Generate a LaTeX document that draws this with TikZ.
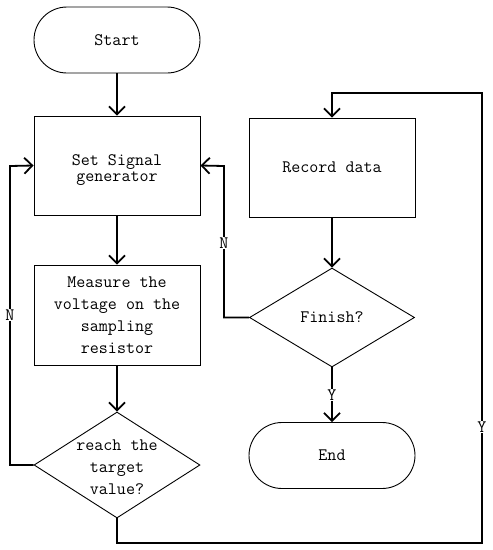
\documentclass[tikz,border=0pt]{standalone}
\usepackage{fontspec}
\usetikzlibrary{shapes.geometric,arrows.meta}
\begin{document}
\begin{tikzpicture}[x=1pt,y=-1pt,
  every node/.style={font=\ttfamily\fontsize{17.5}{22}\selectfont},
  procbox/.style={draw,line width=0.9pt,rectangle,minimum width=166pt,minimum height=99pt,inner sep=0pt,align=center},
  termbox/.style={draw,line width=0.9pt,rectangle,rounded corners=33pt,minimum width=166pt,minimum height=66pt,inner sep=0pt},
  decbox/.style={draw,line width=0.9pt,diamond,minimum width=166pt,minimum height=106pt,inner sep=0pt},
  conn/.style={line width=1.8pt,-{Straight Barb[length=8pt,width=16pt,line width=1.8pt]}},
  lbl/.style={fill=white,inner sep=1pt}]
\useasboundingbox (0,0) rectangle (493,550);
\node[termbox] (start) at (117,40) {Start};
\node[procbox] (set) at (117,165.5) {};
\node[align=center,font=\ttfamily\fontsize{17.5}{16}\selectfont] (settxt) at (117,170) {Set Signal\\generator};
\node[procbox,minimum height=100pt] (meas) at (117,315) {Measure the\\voltage on the\\sampling\\resistor};
\node[decbox] (reach) at (117,465) {};
\node[align=center] (reachtxt) at (117,467) {reach the\\target\\value?};
\node[procbox] (rec) at (332,167.5) {Record data};
\node[decbox,minimum width=165pt,minimum height=99pt] (fin) at (332,317.5) {Finish?};
\node[termbox] (end) at (332,455.5) {End};
\coordinate (nl) at (10,166);
\coordinate (nr) at (224,166);
\coordinate (b1) at (117,543);
\coordinate (b2) at (482,93);
\draw[conn] (start) -- (set);
\draw[conn] (set) -- (meas);
\draw[conn] (meas) -- (reach);
\draw[conn] (rec) -- (fin);
\draw[conn] (fin) -- (end);
\draw[conn] (reach.west) -| (nl) -- (set.west);
\draw[conn] (fin.west) -| (nr) -- (set.east);
\draw[conn] (reach.south) -- (b1) -| (b2) -| (rec.north);
\node[lbl] (nlab) at (10,315) {N};
\node[lbl] (nrlab) at (224,243) {N};
\node[lbl] (ylab) at (332,395) {Y};
\node[lbl] (yrlab) at (482,427) {Y};
\end{tikzpicture}
\end{document}
